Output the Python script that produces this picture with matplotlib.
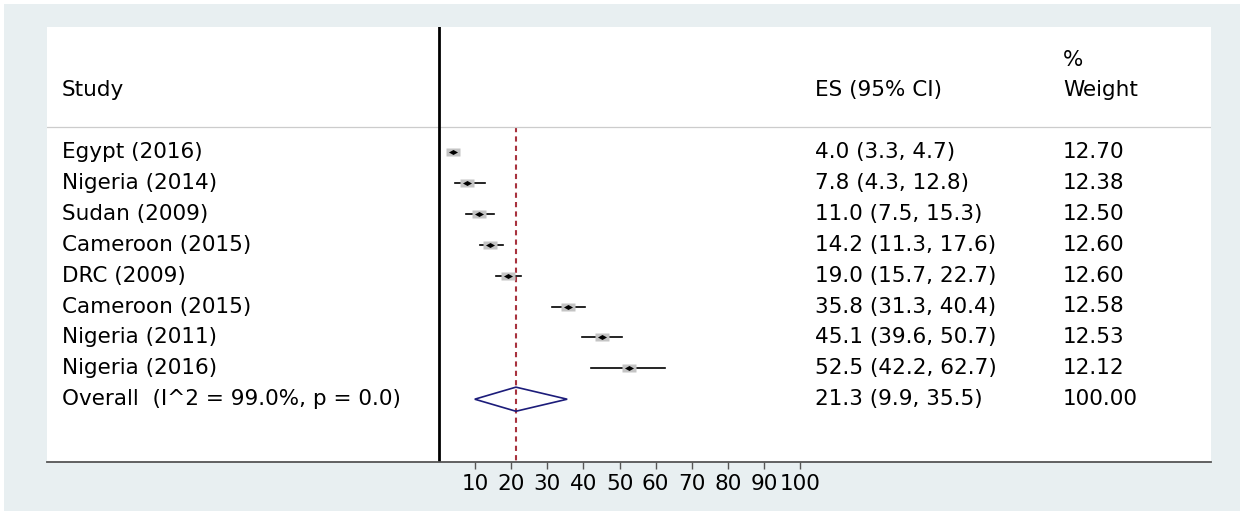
import numpy as np
import matplotlib.pyplot as plt
from matplotlib.patches import Polygon, Rectangle

# study rows
studies = ['Egypt (2016)', 'Nigeria (2014)', 'Sudan (2009)', 'Cameroon (2015)',
           'DRC (2009)', 'Cameroon (2015)', 'Nigeria (2011)', 'Nigeria (2016)']
es = [4.0, 7.8, 11.0, 14.2, 19.0, 35.8, 45.1, 52.5]
ci_lo = [3.3, 4.3, 7.5, 11.3, 15.7, 31.3, 39.6, 42.2]
ci_hi = [4.7, 12.8, 15.3, 17.6, 22.7, 40.4, 50.7, 62.7]
weights = [12.70, 12.38, 12.50, 12.60, 12.60, 12.58, 12.53, 12.12]

# pooled estimate
overall_label = 'Overall  (I^2 = 99.0%, p = 0.0)'
overall_es = 21.3
overall_lo = 9.9
overall_hi = 35.5
overall_weight = 100.00

xticks = [10, 20, 30, 40, 50, 60, 70, 80, 90, 100]

plt.rcParams['font.family'] = ['DejaVu Sans']
FS = 15.5

W, H = 1240, 514
fig = plt.figure(figsize=(W / 100, H / 100), dpi=100, facecolor='white')
fig.patches.append(Rectangle((4 / W, 3 / H), 1 - 4 / W, 1 - 7 / H, transform=fig.transFigure,
                             facecolor='#e8eff1', edgecolor='none', zorder=-10))

# white plot region, pixel layout
px_left, px_right, px_top, px_bottom = 47, 1211, 27, 462
ax = fig.add_axes([px_left / W, 1 - px_bottom / H, (px_right - px_left) / W, (px_bottom - px_top) / H])
ax.set_facecolor('white')

x0_px = 439
px_per_unit = (800 - 475) / 90.0
ax.set_xlim((px_left - x0_px) / px_per_unit, (px_right - x0_px) / px_per_unit)
row0_px, row_step = 152, 30.9
ax.set_ylim((px_bottom - row0_px) / row_step, (px_top - row0_px) / row_step)

for s in ['top', 'left', 'right']:
    ax.spines[s].set_visible(False)
ax.spines['bottom'].set_color('#555555')
ax.spines['bottom'].set_linewidth(1.3)
ax.set_yticks([])
ax.set_xticks(xticks)
ax.set_xticklabels([str(t) for t in xticks], fontsize=FS)
ax.tick_params(axis='x', length=5, width=1, color='#555555', pad=4)

trans = ax.get_yaxis_transform()
header_row = (127 - row0_px) / row_step

# header
ax.axhline(header_row, color='#cccccc', lw=0.9)
ax.text(0.0129, -2.0, 'Study', transform=trans, fontsize=FS, va='center')
ax.text(0.66, -2.0, 'ES (95% CI)', transform=trans, fontsize=FS, va='center')
ax.text(0.873, -2.98, '%', transform=trans, fontsize=FS, va='center')
ax.text(0.873, -2.0, 'Weight', transform=trans, fontsize=FS, va='center')

# null line and overall line
ax.axvline(0, color='black', lw=2)
ax.plot([overall_es, overall_es], [header_row, ax.get_ylim()[0]], color='#a8323e',
        lw=1.5, ls=(0, (2.5, 2)), zorder=1)

box = [(-1, -0.55), (1, -0.55), (1, 0.55), (-1, 0.55), (-1, -0.55)]
dot = [(-1, 0), (0, 0.55), (1, 0), (0, -0.55), (-1, 0)]

rows = np.arange(len(studies))
for i in rows:
    ax.plot([ci_lo[i], ci_hi[i]], [i, i], color='black', lw=1.2, zorder=2)
    ax.plot(es[i], i, marker=box, ms=10 * np.sqrt(weights[i] / 12.5), color='#c4c4c4',
            mec='none', zorder=3)
    ax.plot(es[i], i, marker=dot, ms=6.5, color='black', mec='none', zorder=4)
    ax.text(0.0129, i, studies[i], transform=trans, fontsize=FS, va='center')
    ax.text(0.66, i, f'{es[i]:.1f} ({ci_lo[i]:.1f}, {ci_hi[i]:.1f})', transform=trans,
            fontsize=FS, va='center')
    ax.text(0.873, i, f'{weights[i]:.2f}', transform=trans, fontsize=FS, va='center')

# pooled diamond
r = len(studies)
ax.add_patch(Polygon([(overall_lo, r), (overall_es, r - 0.39), (overall_hi, r), (overall_es, r + 0.39)],
                     closed=True, fill=False, edgecolor='#1c1c7a', lw=1.2, zorder=3))
ax.text(0.0129, r, overall_label, transform=trans, fontsize=FS, va='center')
ax.text(0.66, r, f'{overall_es:.1f} ({overall_lo:.1f}, {overall_hi:.1f})', transform=trans,
        fontsize=FS, va='center')
ax.text(0.873, r, f'{overall_weight:.2f}', transform=trans, fontsize=FS, va='center')

fig.savefig('out.png', dpi=100, facecolor=fig.get_facecolor())
